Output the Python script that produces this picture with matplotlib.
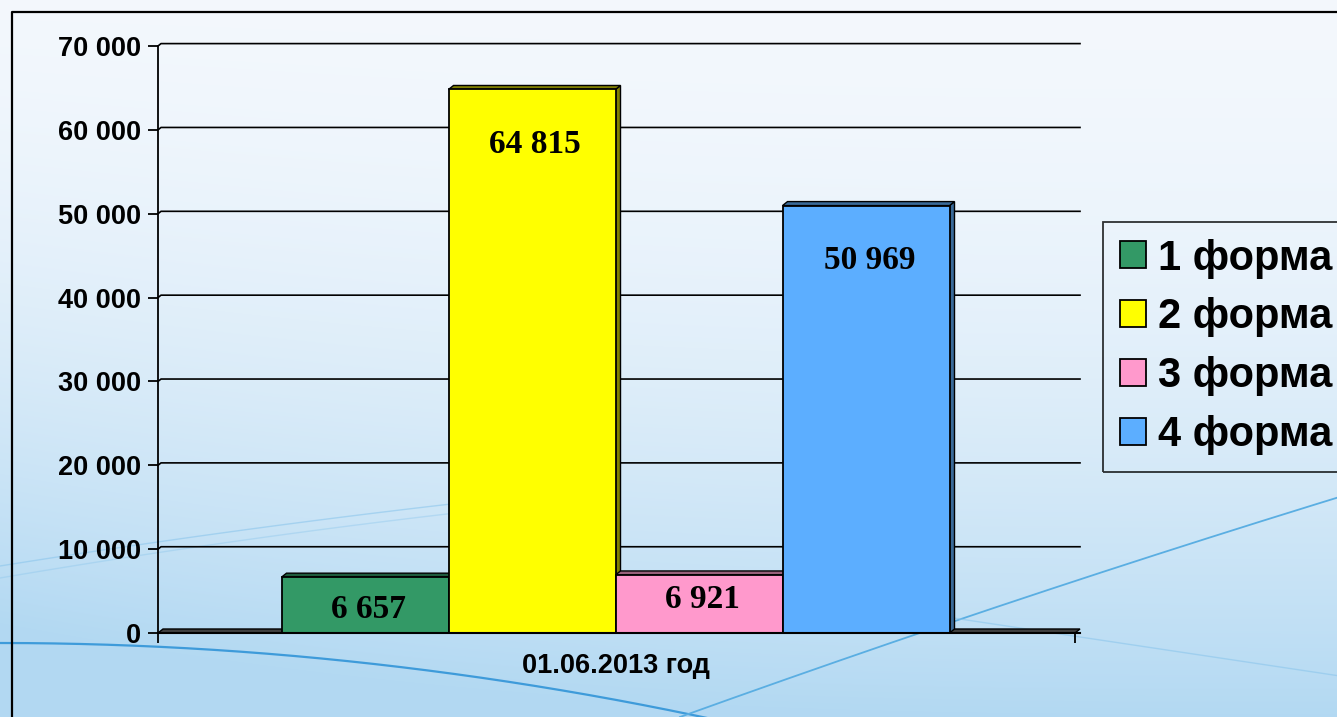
import numpy as np
import matplotlib
matplotlib.use("Agg")
import matplotlib.pyplot as plt
from matplotlib.patches import Polygon, Patch

# data
forms = ["1 форма", "2 форма", "3 форма", "4 форма"]
values = [6657, 64815, 6921, 50969]
value_labels = ["6 657", "64 815", "6 921", "50 969"]
front_colors = ["#339966", "#FFFF00", "#FF99CC", "#5CAEFF"]
side_colors = ["#1E5C3D", "#808000", "#99607A", "#3A6A99"]
y_ticks = [0, 10000, 20000, 30000, 40000, 50000, 60000, 70000]
y_tick_labels = ["0", "10 000", "20 000", "30 000", "40 000", "50 000", "60 000", "70 000"]
x_label = "01.06.2013 год"

W, H = 1337, 717
fig = plt.figure(figsize=(W / 100, H / 100), dpi=100)

# background gradient + decorative curves
bg = fig.add_axes([0, 0, 1, 1], zorder=-1)
yy, xx = np.mgrid[0:H, 0:W]
t = (yy / H) ** 1.8 + 0.25 * (1 - xx / W) ** 3 * (yy / H)
t = np.clip(t, 0, 1)
top = np.array([0.955, 0.972, 0.992])
bot = np.array([0.70, 0.85, 0.95])
img = top[None, None, :] * (1 - t[..., None]) + bot[None, None, :] * t[..., None]
bg.imshow(img, extent=[0, W, H, 0], aspect="auto")
cx = np.linspace(0, 760, 200)
bg.plot(cx, 643 + 1.5e-4 * cx ** 2, color="#3E9BDA", lw=1.6)
cx = np.linspace(680, W, 200)
bg.plot(cx, 717 - 0.36 * (cx - 680) + 4e-5 * (cx - 680) ** 2, color="#5AAEE2", lw=1.3)
cx = np.linspace(0, 600, 100)
bg.plot(cx, 566 - 0.16 * cx + 5e-5 * cx ** 2, color="#8CC6EC", lw=1.0, alpha=0.6)
bg.plot(cx, 578 - 0.17 * cx + 6e-5 * cx ** 2, color="#8CC6EC", lw=1.0, alpha=0.4)
cx = np.linspace(900, W, 100)
bg.plot(cx, 610 + 0.15 * (cx - 900), color="#8CC6EC", lw=1.0, alpha=0.6)
# outer frame
bg.plot([12, 12, W + 5], [H + 5, 12, 12], color="black", lw=1.6)
bg.set_xlim(0, W)
bg.set_ylim(H, 0)
bg.axis("off")

# main axes
ax = fig.add_axes([158 / W, (H - 633) / H, 922 / W, 587 / H])
ax.set_facecolor("none")
x0 = (158 - 615.5) / 167
x1 = (1080 - 615.5) / 167
ax.set_xlim(x0, x1)
ax.set_ylim(0, 70000)

dx = 5 / 167
dy = 4 * 70000 / 587

# gridlines
for yv in y_ticks[1:]:
    ax.plot([x0, x0 + dx * 0.6, x1], [yv, yv + dy * 0.6, yv + dy * 0.6],
            color="black", lw=1.2, zorder=1, clip_on=False)

# floor
ax.add_patch(Polygon([[x0, 0], [x1 - dx, 0], [x1, dy], [x0 + dx, dy]],
                     closed=True, facecolor="#404040", edgecolor="black",
                     lw=1.0, zorder=1.5, clip_on=False))

label_y = [2750, 58300, 3950, 44400]
xs = np.arange(len(values)) - 1.5
for i, (xc, v) in enumerate(zip(xs, values)):
    l, r = xc - 0.5, xc + 0.5
    z = 2 + i
    ax.add_patch(Polygon([[r, 0], [r + dx, dy], [r + dx, v + dy], [r, v]],
                         closed=True, facecolor=side_colors[i], edgecolor="black",
                         lw=1.0, zorder=z, clip_on=False))
    ax.add_patch(Polygon([[l, v], [l + dx, v + dy], [r + dx, v + dy], [r, v]],
                         closed=True, facecolor=side_colors[i], edgecolor="black",
                         lw=1.0, zorder=z, clip_on=False))
    ax.bar(xc, v, width=1.0, color=front_colors[i], edgecolor="black",
           lw=1.3, zorder=z + 0.5)
    ax.text(xc + 0.02, label_y[i], value_labels[i], ha="center", va="center",
            fontsize=24, fontweight="bold", family="Liberation Serif",
            zorder=10)

for s in ["top", "right"]:
    ax.spines[s].set_visible(False)
ax.spines["left"].set_linewidth(1.3)
ax.spines["bottom"].set_linewidth(1.5)
ax.spines["left"].set_zorder(6)
ax.spines["bottom"].set_zorder(6)

ax.set_yticks(y_ticks, y_tick_labels)
ax.tick_params(axis="y", length=7, width=1.3, pad=5, labelsize=19.5)
for lab in ax.get_yticklabels():
    lab.set_fontweight("bold")
    lab.set_family("Liberation Sans")
ax.set_xticks([x0, (1075 - 615.5) / 167], ["", ""])
ax.tick_params(axis="x", length=7, width=1.3)

ax.text(0.0, -0.056, x_label, transform=ax.get_xaxis_transform(),
        ha="center", va="center", fontsize=19.5, fontweight="bold",
        family="Liberation Sans")

handles = [Patch(facecolor=c, edgecolor="black", lw=1.3) for c in front_colors]
leg = fig.legend(handles, forms, loc="upper left",
                 bbox_to_anchor=(1103 / W, 1 - 222 / H),
                 prop={"family": "Liberation Sans", "weight": "bold", "size": 30},
                 handlelength=0.62, handleheight=0.62, handletextpad=0.31,
                 borderpad=0.4, labelspacing=0.45, borderaxespad=0,
                 fancybox=False)
leg.get_frame().set_facecolor("none")
leg.get_frame().set_edgecolor("black")
leg.get_frame().set_linewidth(1.3)

fig.savefig("out.png", dpi=100)
